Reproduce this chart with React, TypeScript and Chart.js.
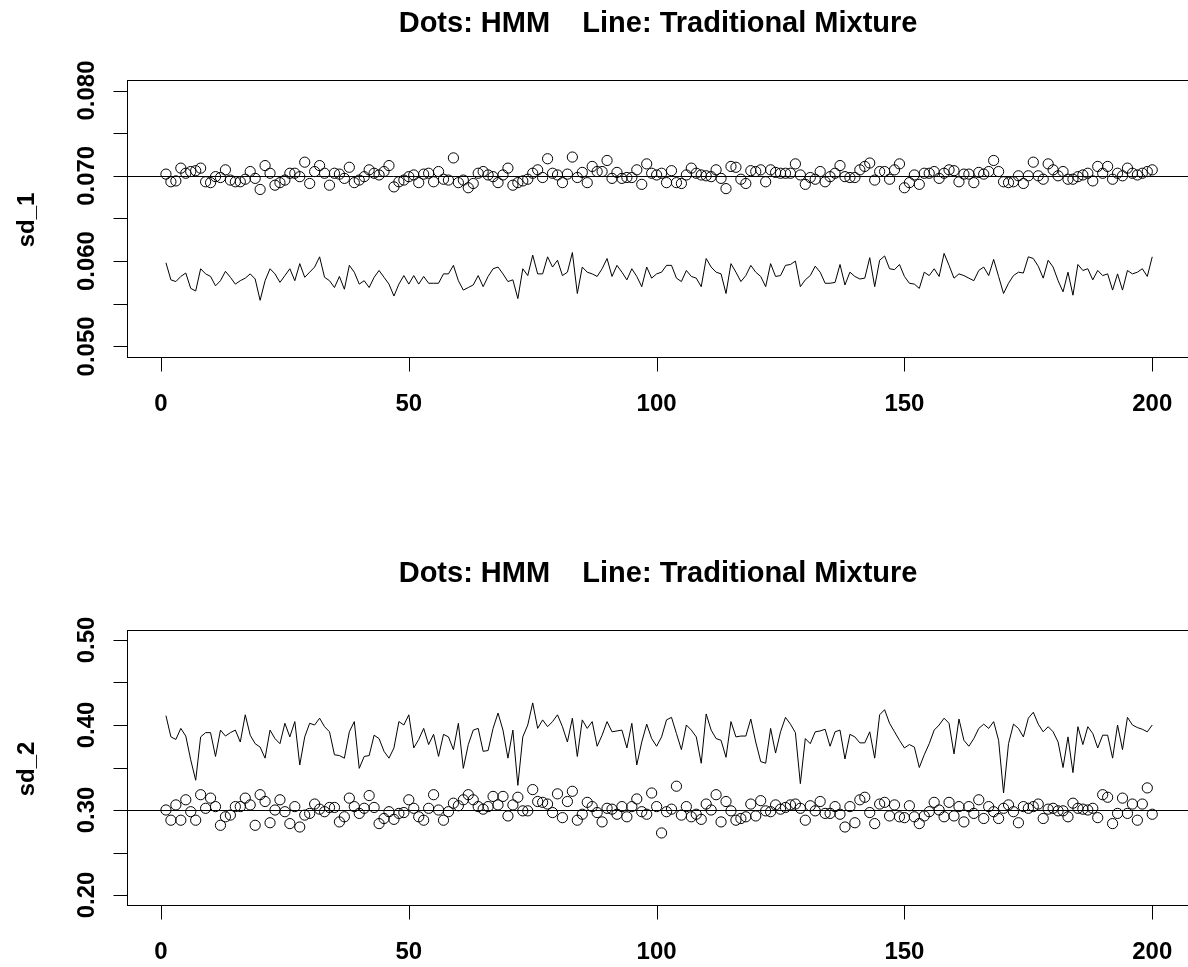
import React, { useEffect, useRef } from "react";
import { Chart, registerables } from "chart.js";

Chart.register(...registerables);

// ---------------- data ----------------
const runIndex: number[] = Array.from({ length: 200 }, (_, k) => k + 1);

const sd1Dots = [
  0.0702,0.0693,0.0694,0.0709,0.0703,0.0705,0.0706,0.0709,0.0693,0.0692,
  0.0699,0.0698,0.0707,0.0695,0.0693,0.0693,0.0696,0.0705,0.0697,0.0684,
  0.0712,0.0703,0.0689,0.0692,0.0695,0.0703,0.0703,0.0699,0.0716,0.0691,
  0.0705,0.0712,0.0703,0.0689,0.0703,0.0702,0.0697,0.0710,0.0692,0.0695,
  0.0699,0.0707,0.0703,0.0701,0.0705,0.0712,0.0687,0.0693,0.0695,0.0699,
  0.0701,0.0692,0.0702,0.0703,0.0693,0.0705,0.0696,0.0695,0.0721,0.0692,
  0.0695,0.0686,0.0691,0.0703,0.0705,0.0701,0.0699,0.0692,0.0701,0.0709,
  0.0689,0.0692,0.0694,0.0696,0.0703,0.0707,0.0698,0.0720,0.0703,0.0701,
  0.0692,0.0702,0.0722,0.0698,0.0704,0.0692,0.0711,0.0705,0.0705,0.0718,
  0.0697,0.0704,0.0697,0.0698,0.0698,0.0707,0.0690,0.0714,0.0703,0.0701,
  0.0703,0.0692,0.0706,0.0692,0.0691,0.0701,0.0709,0.0703,0.0701,0.0700,
  0.0699,0.0707,0.0697,0.0685,0.0711,0.0710,0.0696,0.0691,0.0706,0.0705,
  0.0707,0.0693,0.0707,0.0704,0.0703,0.0703,0.0703,0.0714,0.0701,0.0690,
  0.0698,0.0696,0.0705,0.0693,0.0699,0.0703,0.0712,0.0699,0.0698,0.0698,
  0.0707,0.0711,0.0715,0.0695,0.0705,0.0705,0.0696,0.0707,0.0714,0.0686,
  0.0692,0.0701,0.0690,0.0703,0.0703,0.0705,0.0697,0.0703,0.0707,0.0706,
  0.0693,0.0702,0.0702,0.0692,0.0704,0.0702,0.0705,0.0718,0.0705,0.0693,
  0.0692,0.0693,0.0700,0.0691,0.0700,0.0716,0.0700,0.0696,0.0714,0.0707,
  0.0700,0.0705,0.0696,0.0696,0.0699,0.0701,0.0703,0.0694,0.0711,0.0703,
  0.0711,0.0696,0.0703,0.0700,0.0709,0.0703,0.0701,0.0703,0.0705,0.0707,
];

const sd1Line = [
  0.0598,0.0578,0.0576,0.0582,0.0586,0.0568,0.0565,0.0591,0.0585,0.0582,
  0.0571,0.0577,0.0588,0.0581,0.0573,0.0577,0.0580,0.0585,0.0579,0.0554,
  0.0577,0.0591,0.0585,0.0575,0.0583,0.0591,0.0577,0.0597,0.0581,0.0587,
  0.0593,0.0605,0.0581,0.0577,0.0569,0.0582,0.0567,0.0595,0.0587,0.0573,
  0.0577,0.0569,0.0581,0.0589,0.0581,0.0573,0.0559,0.0573,0.0583,0.0573,
  0.0583,0.0573,0.0582,0.0574,0.0574,0.0574,0.0585,0.0585,0.0595,0.0577,
  0.0566,0.0569,0.0572,0.0583,0.0570,0.0582,0.0591,0.0593,0.0585,0.0576,
  0.0578,0.0556,0.0591,0.0583,0.0607,0.0585,0.0585,0.0605,0.0593,0.0601,
  0.0583,0.0587,0.0610,0.0562,0.0593,0.0587,0.0585,0.0582,0.0591,0.0603,
  0.0582,0.0595,0.0587,0.0578,0.0591,0.0582,0.0570,0.0593,0.0580,0.0585,
  0.0587,0.0595,0.0595,0.0580,0.0576,0.0589,0.0582,0.0580,0.0570,0.0603,
  0.0593,0.0587,0.0585,0.0562,0.0597,0.0587,0.0576,0.0583,0.0595,0.0587,
  0.0582,0.0570,0.0597,0.0582,0.0583,0.0595,0.0596,0.0600,0.0570,0.0578,
  0.0583,0.0594,0.0587,0.0574,0.0574,0.0575,0.0596,0.0572,0.0587,0.0582,
  0.0579,0.0580,0.0604,0.0570,0.0601,0.0606,0.0591,0.0590,0.0596,0.0582,
  0.0574,0.0573,0.0568,0.0587,0.0583,0.0591,0.0582,0.0609,0.0595,0.0580,
  0.0585,0.0583,0.0580,0.0577,0.0589,0.0593,0.0583,0.0602,0.0582,0.0562,
  0.0574,0.0583,0.0587,0.0586,0.0605,0.0603,0.0594,0.0580,0.0601,0.0593,
  0.0577,0.0564,0.0587,0.0560,0.0596,0.0589,0.0591,0.0578,0.0589,0.0583,
  0.0585,0.0566,0.0585,0.0566,0.0589,0.0585,0.0587,0.0591,0.0582,0.0605,
];

const sd2Dots = [
  0.300,0.288,0.306,0.288,0.312,0.298,0.288,0.318,0.302,0.314,
  0.304,0.282,0.292,0.294,0.304,0.304,0.314,0.306,0.282,0.318,
  0.310,0.285,0.300,0.312,0.298,0.284,0.304,0.280,0.294,0.296,
  0.307,0.301,0.298,0.303,0.303,0.286,0.292,0.314,0.304,0.296,
  0.302,0.317,0.303,0.284,0.290,0.298,0.289,0.296,0.297,0.312,
  0.302,0.292,0.288,0.302,0.318,0.300,0.288,0.298,0.308,0.305,
  0.312,0.318,0.312,0.304,0.301,0.304,0.316,0.306,0.316,0.293,
  0.306,0.315,0.299,0.299,0.324,0.310,0.309,0.307,0.297,0.319,
  0.291,0.310,0.322,0.288,0.295,0.309,0.304,0.297,0.286,0.302,
  0.301,0.295,0.304,0.292,0.304,0.313,0.298,0.295,0.320,0.304,
  0.273,0.298,0.301,0.328,0.294,0.304,0.292,0.295,0.289,0.307,
  0.300,0.318,0.286,0.310,0.299,0.288,0.290,0.292,0.307,0.293,
  0.311,0.299,0.298,0.306,0.301,0.303,0.306,0.307,0.302,0.288,
  0.305,0.299,0.310,0.296,0.296,0.304,0.295,0.280,0.304,0.285,
  0.312,0.315,0.297,0.284,0.307,0.309,0.293,0.306,0.292,0.291,
  0.305,0.292,0.284,0.293,0.298,0.309,0.300,0.292,0.309,0.293,
  0.304,0.286,0.304,0.296,0.312,0.290,0.304,0.298,0.290,0.302,
  0.306,0.298,0.285,0.304,0.302,0.304,0.307,0.290,0.301,0.302,
  0.299,0.299,0.292,0.308,0.302,0.301,0.300,0.302,0.291,0.318,
  0.315,0.284,0.296,0.314,0.296,0.307,0.288,0.307,0.326,0.295,
];

const sd2Line = [
  0.411,0.386,0.383,0.396,0.387,0.359,0.335,0.386,0.391,0.391,
  0.363,0.394,0.387,0.391,0.394,0.380,0.412,0.388,0.378,0.374,
  0.361,0.394,0.384,0.378,0.402,0.386,0.404,0.353,0.386,0.402,
  0.400,0.408,0.398,0.392,0.365,0.364,0.361,0.392,0.404,0.349,
  0.363,0.364,0.388,0.384,0.369,0.361,0.373,0.404,0.400,0.412,
  0.373,0.383,0.396,0.377,0.389,0.363,0.389,0.386,0.371,0.402,
  0.349,0.377,0.394,0.396,0.369,0.370,0.396,0.414,0.394,0.361,
  0.394,0.329,0.386,0.400,0.426,0.396,0.406,0.398,0.404,0.412,
  0.398,0.380,0.408,0.363,0.406,0.396,0.404,0.375,0.388,0.404,
  0.392,0.393,0.394,0.373,0.402,0.353,0.380,0.401,0.384,0.375,
  0.386,0.406,0.409,0.390,0.371,0.400,0.394,0.386,0.355,0.413,
  0.394,0.384,0.382,0.362,0.404,0.386,0.387,0.387,0.407,0.380,
  0.357,0.355,0.396,0.367,0.392,0.409,0.401,0.391,0.331,0.384,
  0.378,0.392,0.393,0.395,0.375,0.392,0.394,0.360,0.389,0.386,
  0.379,0.379,0.392,0.361,0.412,0.418,0.402,0.392,0.382,0.373,
  0.377,0.374,0.350,0.365,0.378,0.394,0.400,0.408,0.402,0.366,
  0.407,0.382,0.375,0.384,0.396,0.401,0.396,0.404,0.382,0.320,
  0.378,0.401,0.396,0.386,0.408,0.415,0.401,0.392,0.398,0.392,
  0.380,0.350,0.386,0.344,0.398,0.377,0.398,0.390,0.373,0.388,
  0.388,0.361,0.400,0.371,0.409,0.400,0.397,0.395,0.392,0.400,
];

const xTickValues = [0, 50, 100, 150, 200];
const sd1TickValues = [0.05, 0.055, 0.06, 0.065, 0.07, 0.075, 0.08];
const sd1LabelValues = [0.05, 0.06, 0.07, 0.08];
const sd2TickValues = [0.2, 0.25, 0.3, 0.35, 0.4, 0.45, 0.5];
const sd2LabelValues = [0.2, 0.3, 0.4, 0.5];
const titleText = "Dots: HMM    Line: Traditional Mixture";

// ---------------- drawing ----------------
const FONT = '"Liberation Sans", Arial, Helvetica, sans-serif';

type PanelProps = {
  top: number;
  height: number;
  padTop: number;
  padBottom: number;
  dots: number[];
  line: number[];
  yLo: number;
  yHi: number;
  tickValues: number[];
  labelValues: number[];
  digits: number;
  refValue: number;
  yTitle: string;
};

const CANVAS_W = 1200;

function Panel(p: PanelProps) {
  const ref = useRef<HTMLCanvasElement | null>(null);

  useEffect(() => {
    const canvas = ref.current;
    if (!canvas) return;
    const xLo = runIndex[0];
    const xHi = runIndex[runIndex.length - 1];
    const xPad = (xHi - xLo) * 0.04;
    const yPad = (p.yHi - p.yLo) * 0.04;

    const framePlugin = {
      id: "rFrame",
      afterDraw(chart: any) {
        const { ctx, chartArea: a } = chart;
        const xs = chart.scales.x;
        const ys = chart.scales.y;
        ctx.save();
        ctx.strokeStyle = "#000";
        ctx.fillStyle = "#000";
        ctx.lineWidth = 1;

        const L = Math.round(a.left) + 0.5;
        const T = Math.round(a.top) + 0.5;
        const R = Math.round(a.right) + 0.5;
        const B = Math.round(a.bottom) + 0.5;

        // reference line
        const ry = Math.round(ys.getPixelForValue(p.refValue)) + 0.5;
        ctx.beginPath();
        ctx.moveTo(L, ry);
        ctx.lineTo(R, ry);
        ctx.stroke();

        // box
        ctx.strokeRect(L, T, R - L, B - T);

        const tickLen = 14;
        // x ticks + labels
        ctx.font = `bold 24px ${FONT}`;
        ctx.textAlign = "center";
        ctx.textBaseline = "alphabetic";
        for (const v of xTickValues) {
          const px = Math.round(xs.getPixelForValue(v)) + 0.5;
          ctx.beginPath();
          ctx.moveTo(px, B);
          ctx.lineTo(px, B + tickLen);
          ctx.stroke();
          ctx.fillText(String(v), xs.getPixelForValue(v), B + 53.5);
        }

        // y ticks
        for (const v of p.tickValues) {
          const py = Math.round(ys.getPixelForValue(v)) + 0.5;
          ctx.beginPath();
          ctx.moveTo(L - tickLen, py);
          ctx.lineTo(L, py);
          ctx.stroke();
        }
        // y tick labels (rotated)
        for (const v of p.labelValues) {
          const py = ys.getPixelForValue(v);
          ctx.save();
          ctx.translate(L - 34, py);
          ctx.rotate(-Math.PI / 2);
          ctx.fillText(v.toFixed(p.digits), 0, 0);
          ctx.restore();
        }

        // y axis title
        ctx.save();
        ctx.translate(33.5, (T + B) / 2 + 1);
        ctx.rotate(-Math.PI / 2);
        ctx.fillText(p.yTitle, 0, 0);
        ctx.restore();

        // main title
        ctx.font = `bold 29px ${FONT}`;
        ctx.fillText(titleText, (a.left + a.right) / 2 - 1, T - 48.5);

        ctx.restore();
      },
    };

    const chart = new Chart(canvas, {
      type: "scatter",
      data: {
        datasets: [
          {
            type: "scatter",
            data: runIndex.map((i, k) => ({ x: i, y: p.dots[k] })),
            showLine: false,
            pointStyle: "circle",
            pointRadius: 5.1,
            pointBorderWidth: 1,
            pointBorderColor: "#000",
            pointBackgroundColor: "rgba(0,0,0,0)",
            pointHoverRadius: 5.1,
          } as any,
          {
            type: "line",
            data: runIndex.map((i, k) => ({ x: i, y: p.line[k] })),
            borderColor: "#000",
            borderWidth: 1,
            pointRadius: 0,
            tension: 0,
            fill: false,
          } as any,
        ],
      },
      options: {
        animation: false,
        responsive: false,
        devicePixelRatio: 1,
        events: [],
        layout: {
          padding: {
            left: 126.5,
            right: CANVAS_W - 1191.7,
            top: p.padTop,
            bottom: p.padBottom,
          },
        },
        plugins: {
          legend: { display: false },
          tooltip: { enabled: false },
          title: { display: false },
        },
        scales: {
          x: { type: "linear", display: false, min: xLo - xPad, max: xHi + xPad },
          y: { type: "linear", display: false, min: p.yLo - yPad, max: p.yHi + yPad },
        },
      },
      plugins: [framePlugin],
    } as any);

    return () => chart.destroy();
  }, []);

  return (
    <canvas
      ref={ref}
      width={CANVAS_W}
      height={p.height}
      style={{ position: "absolute", left: 0, top: p.top, display: "block" }}
    />
  );
}

export default function App() {
  return (
    <div
      style={{
        position: "absolute",
        left: 0,
        top: 0,
        width: 1188,
        height: 967,
        overflow: "hidden",
        background: "#fff",
      }}
    >
      <Panel
        top={0}
        height={480}
        padTop={80.3}
        padBottom={480 - 356.6}
        dots={sd1Dots}
        line={sd1Line}
        yLo={0.05}
        yHi={0.08}
        tickValues={sd1TickValues}
        labelValues={sd1LabelValues}
        digits={3}
        refValue={0.07}
        yTitle="sd_1"
      />
      <Panel
        top={480}
        height={487}
        padTop={629.8 - 480}
        padBottom={487 - (905.2 - 480)}
        dots={sd2Dots}
        line={sd2Line}
        yLo={0.2}
        yHi={0.5}
        tickValues={sd2TickValues}
        labelValues={sd2LabelValues}
        digits={2}
        refValue={0.3}
        yTitle="sd_2"
      />
    </div>
  );
}
